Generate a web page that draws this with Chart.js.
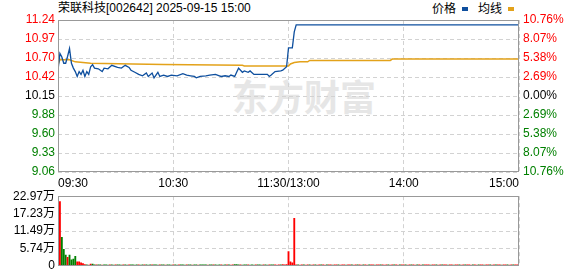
<!DOCTYPE html>
<html>
<head>
<meta charset="utf-8">
<script src="https://cdn.jsdelivr.net/npm/chart.js@4.4.0/dist/chart.umd.min.js"></script>
<style>
  body { margin: 0; width: 578px; height: 276px; background: #fff; position: relative; overflow: hidden;
         font-family: "Liberation Sans", "Noto Sans CJK SC", sans-serif; }
  .txt { position: absolute; font-size: 12px; line-height: 14px; color: #000; white-space: nowrap; }
  .sq { position: absolute; width: 6px; height: 4px; }
  #wm { position: absolute; left: 232px; top: 77px; font-size: 36px; line-height: 36px; font-weight: bold;
        color: #e6e6e6; font-family: "Noto Sans CJK SC", sans-serif; }
  #main { position: absolute; left: 0; top: 0; width: 578px; height: 192px; }
  #vol { position: absolute; left: 0; top: 186px; width: 578px; height: 90px; }
</style>
</head>
<body>
<div id="wm">东方财富</div>
<div class="txt" style="left:58px;top:1px">荣联科技[002642] 2025-09-15 15:00</div>
<div class="txt" style="left:432px;top:2px">价格</div>
<div class="sq" style="left:462px;top:7px;background:#0e4f9e"></div>
<div class="txt" style="left:478px;top:2px">均线</div>
<div class="sq" style="left:508px;top:7px;background:#e3a21a"></div>
<div id="main"><canvas id="c1"></canvas></div>
<div id="vol"><canvas id="c2"></canvas></div>
<script>
// time axis: minutes since 09:30 (lunch break removed)
const timeTicks = [0, 60, 120, 180, 240];
const timeLabels = ['09:30', '10:30', '11:30/13:00', '14:00', '15:00'];

// price axis (prev close 10.15)
const priceTicks = [9.06, 9.3325, 9.605, 9.8775, 10.15, 10.4225, 10.695, 10.9675, 11.24];
const priceLabels = ['9.06', '9.33', '9.60', '9.88', '10.15', '10.42', '10.70', '10.97', '11.24'];
const pctLabels = ['10.76%', '8.07%', '5.38%', '2.69%', '0.00%', '2.69%', '5.38%', '8.07%', '10.76%'];

// price line
const priceMinutes = [
  0, 1, 2, 3, 4, 5, 6, 7, 8, 9,
  10, 11, 12, 13, 14, 15, 16, 17, 18, 19,
  21, 23, 24, 26, 28, 31, 33, 35, 37, 38,
  40, 42, 44, 46, 47, 49, 50, 52, 53, 55,
  57, 59, 62, 65, 67, 69, 71, 72, 74, 77,
  79, 82, 84, 85, 87, 89, 90, 92, 93, 94,
  96, 97, 99, 100, 102, 105, 109, 110, 111, 113,
  116, 117, 119, 120, 121, 122, 123, 124, 240
];
const prices = [
  10.52, 10.76, 10.71, 10.62, 10.62, 10.72, 10.83, 10.62, 10.55, 10.50,
  10.43, 10.50, 10.46, 10.52, 10.43, 10.50, 10.46, 10.57, 10.60, 10.55,
  10.54, 10.50, 10.55, 10.54, 10.59, 10.56, 10.55, 10.59, 10.56, 10.52,
  10.49, 10.46, 10.44, 10.48, 10.43, 10.48, 10.41, 10.49, 10.43, 10.45,
  10.43, 10.45, 10.44, 10.47, 10.45, 10.44, 10.43, 10.41, 10.43, 10.44,
  10.45, 10.46, 10.44, 10.43, 10.44, 10.43, 10.45, 10.43, 10.49, 10.55,
  10.49, 10.51, 10.49, 10.51, 10.46, 10.46, 10.46, 10.43, 10.45, 10.50,
  10.51, 10.52, 10.57, 10.84, 10.84, 10.84, 11.07, 11.17, 11.17
];

// average price line
const avgMinutes = [0, 1, 6, 9, 17, 39, 55, 96, 97, 120, 121, 123, 126, 130, 131, 173, 174, 240];
const avgPrices = [10.60, 10.67, 10.67, 10.64, 10.62, 10.61, 10.60, 10.59, 10.58, 10.58,
                   10.61, 10.63, 10.64, 10.64, 10.66, 10.66, 10.68, 10.68];

// volume per minute (万), minutes 1..240
const volumes = [
  21.2, 9.4, 5.4, 3.5, 2.8, 3.5, 2.0, 2.2, 3.1, 1.3, 1.3, 1.0, 0.7, 0.4, 0.3, 0.2, 0.6, 0.6, 0.3, 0.3,
  0.3, 0.3, 0.2, 0.3, 0.3, 0.2, 0.3, 0.3, 0.2, 0.3, 0.3, 0.3, 0.2, 0.3, 0.3, 0.2, 0.3, 0.3, 0.3, 0.2,
  0.3, 0.3, 0.2, 0.3, 0.3, 0.3, 0.2, 0.3, 0.3, 0.3, 0.3, 0.2, 0.3, 0.3, 0.3, 0.2, 0.3, 0.3, 0.2, 0.3,
  0.3, 0.2, 0.3, 0.3, 0.3, 0.2, 0.3, 0.3, 0.3, 0.2, 0.3, 0.3, 0.2, 0.3, 0.3, 0.3, 0.3, 0.2, 0.3, 0.3,
  0.3, 0.3, 0.2, 0.3, 0.3, 0.2, 0.3, 0.3, 0.3, 0.2, 0.3, 0.4, 0.4, 0.3, 0.3, 0.2, 0.3, 0.3, 0.3, 0.2,
  0.3, 0.2, 0.3, 0.3, 0.3, 0.2, 0.3, 0.3, 0.2, 0.3, 0.3, 0.3, 0.3, 0.2, 0.3, 0.3, 0.4, 0.3, 0.4, 4.7,
  1.3, 1.0, 15.7, 0.3, 0.3, 0.2, 0.3, 0.3, 0.2, 0.3, 0.3, 0.2, 0.3, 0.3, 0.2, 0.3, 0.3, 0.3, 0.2, 0.3,
  0.3, 0.3, 0.2, 0.3, 0.3, 0.3, 0.2, 0.3, 0.3, 0.2, 0.3, 0.3, 0.3, 0.2, 0.3, 0.3, 0.3, 0.2, 0.3, 0.3,
  0.2, 0.3, 0.3, 0.3, 0.2, 0.3, 0.3, 0.3, 0.3, 0.2, 0.3, 0.3, 0.2, 0.3, 0.3, 0.3, 0.2, 0.3, 0.3, 0.3,
  0.3, 0.2, 0.3, 0.3, 0.3, 0.2, 0.3, 0.3, 0.2, 0.3, 0.3, 0.3, 0.3, 0.2, 0.3, 0.3, 0.3, 0.2, 0.3, 0.3,
  0.3, 0.3, 0.2, 0.3, 0.3, 0.2, 0.3, 0.3, 0.3, 0.2, 0.3, 0.3, 0.3, 0.3, 0.2, 0.3, 0.3, 0.2, 0.3, 0.3,
  0.3, 0.2, 0.3, 0.3, 0.3, 0.2, 0.3, 0.3, 0.3, 0.3, 0.2, 0.3, 0.3, 0.3, 0.2, 0.3, 0.3, 0.3, 0.3, 0.5
];
// r = up tick, g = down tick
const volDirs =
  'rgggrggggrrrrrgrrggr' + 'ggrgggrggrgggrggrggg' + 'grggrgggrgggrggrgggr' +
  'ggrgggrggrggrggggrgg' + 'rgggrggrgrrgggrgggrg' + 'ggrgggrggrggrrrgrrrr' +
  'rrrrgrrgrrgrrgrrgrrg' + 'rrgrrgrrrgrrgrrgrrgr' + 'rgrrgrrgrrrgrrgrrgrr' +
  'grrgrrgrrgrrrgrrgrrg' + 'rrgrrgrrgrrgrrrgrrgr' + 'rgrrgrrgrrgrrgrrgrrr';

const volTicks = [0, 5.7425, 11.485, 17.2275, 22.97];
const volLabels = ['0', '5.74万', '11.49万', '17.23万', '22.97万'];

const FONT = { family: '"Liberation Sans", "Noto Sans CJK SC", sans-serif', size: 12 };
const GRID = '#d2d2d2';

const frame = {
  id: 'frame',
  afterDraw(chart) {
    const a = chart.chartArea, ctx = chart.ctx;
    ctx.save();
    ctx.strokeStyle = '#999';
    ctx.lineWidth = 1;
    ctx.strokeRect(Math.round(a.left) + 0.5, Math.round(a.top) + 0.5,
                   Math.round(a.right) - Math.round(a.left) - 1, Math.round(a.bottom) - Math.round(a.top) - 1);
    ctx.restore();
  }
};

function tickColor(ctx) {
  if (ctx.index < 4) return '#008000';
  if (ctx.index === 4) return '#000';
  return '#ff0000';
}

new Chart(document.getElementById('c1'), {
  type: 'line',
  data: {
    datasets: [
      {
        data: priceMinutes.map((m, i) => ({ x: m, y: prices[i] })),
        borderColor: '#0e4f9e', borderWidth: 1.3, pointRadius: 0, tension: 0
      },
      {
        data: avgMinutes.map((m, i) => ({ x: m, y: avgPrices[i] })),
        borderColor: '#e3a21a', borderWidth: 1.5, pointRadius: 0, tension: 0
      }
    ]
  },
  options: {
    animation: false, responsive: true, maintainAspectRatio: false,
    layout: { padding: { top: 20, left: 0, right: 0, bottom: 0 } },
    plugins: { legend: { display: false }, tooltip: { enabled: false } },
    scales: {
      x: {
        type: 'linear', min: 0, max: 240,
        afterBuildTicks: s => { s.ticks = timeTicks.map(v => ({ value: v })); },
        afterFit: s => { s.height = 20; },
        ticks: { callback: (v, i) => timeLabels[i], align: 'inner', maxRotation: 0, autoSkip: false,
                 color: '#000', font: FONT, padding: 4 },
        grid: { color: GRID, drawTicks: false },
        border: { display: false, dash: [4, 3] }
      },
      y: {
        position: 'left', min: 9.06, max: 11.24,
        afterBuildTicks: s => { s.ticks = priceTicks.map(v => ({ value: v })); },
        afterFit: s => { s.width = 58; },
        ticks: { callback: (v, i) => priceLabels[i], color: tickColor, font: FONT, padding: 3 },
        grid: { color: GRID, drawTicks: false },
        border: { display: false, dash: [4, 3] }
      },
      y2: {
        display: true, position: 'right', min: 9.06, max: 11.24,
        afterBuildTicks: s => { s.ticks = priceTicks.map(v => ({ value: v })); },
        afterFit: s => { s.width = 59; },
        ticks: { callback: (v, i) => pctLabels[i], color: tickColor, font: FONT, padding: 4 },
        grid: { display: false, drawTicks: false },
        border: { display: false }
      }
    }
  },
  plugins: [frame]
});

new Chart(document.getElementById('c2'), {
  type: 'bar',
  data: {
    datasets: [{
      data: volumes.map((v, i) => ({ x: i + 1, y: v })),
      backgroundColor: ctx => volDirs[ctx.dataIndex] === 'g' ? '#008000' : '#ff0000',
      barThickness: 1.2
    }]
  },
  options: {
    animation: false, responsive: true, maintainAspectRatio: false,
    layout: { padding: { top: 10, left: 0, right: 59, bottom: 0 } },
    plugins: { legend: { display: false }, tooltip: { enabled: false } },
    scales: {
      x: {
        type: 'linear', min: 0, max: 240, offset: false,
        afterBuildTicks: s => { s.ticks = timeTicks.map(v => ({ value: v })); },
        afterFit: s => { s.height = 7; },
        ticks: { display: false },
        grid: { color: GRID, drawTicks: false, offset: false },
        border: { display: false, dash: [4, 3] }
      },
      y: {
        min: 0, max: 22.97,
        afterBuildTicks: s => { s.ticks = volTicks.map(v => ({ value: v })); },
        afterFit: s => { s.width = 58; },
        ticks: { callback: (v, i) => volLabels[i], color: '#000', font: FONT, padding: 3 },
        grid: { color: GRID, drawTicks: false },
        border: { display: false, dash: [4, 3] }
      }
    }
  },
  plugins: [frame]
});
</script>
</body>
</html>
